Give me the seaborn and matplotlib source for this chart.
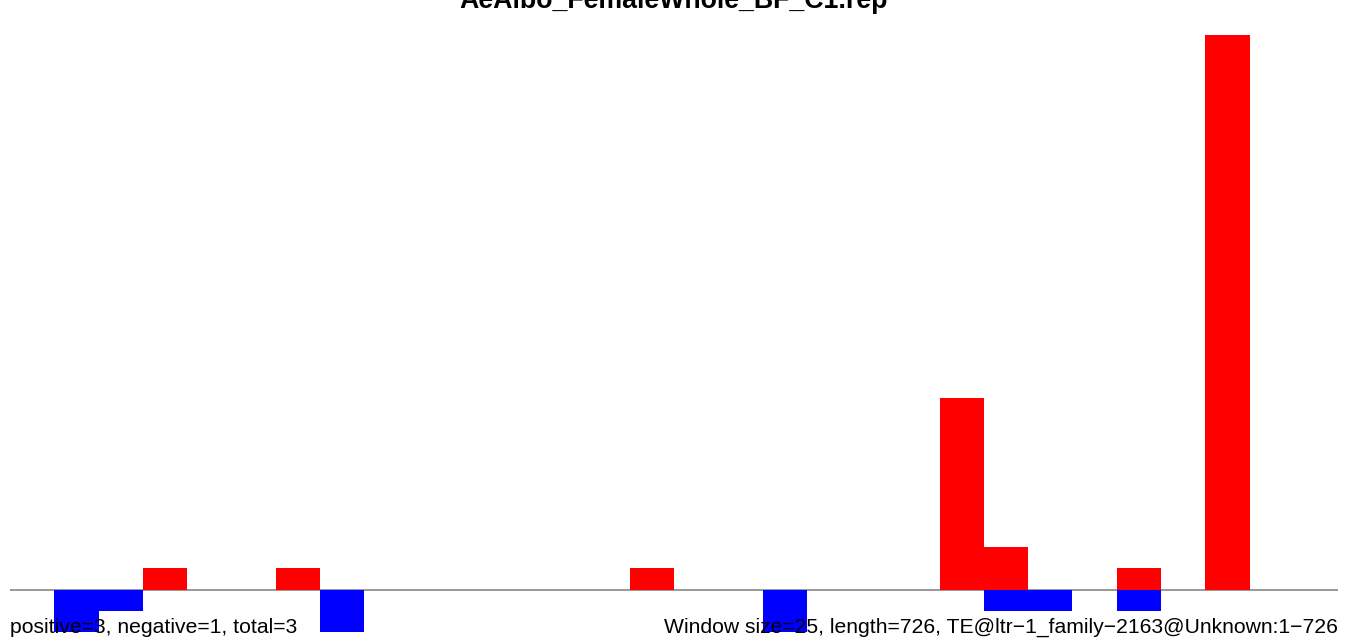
import numpy as np
import pandas as pd
import matplotlib
matplotlib.use("Agg")
import matplotlib.pyplot as plt
import seaborn as sns

# window index (25 bp windows over 726 bp)
bins = list(range(30))
pos_counts = [0, 0, 0, 1, 0, 0, 1, 0, 0, 0, 0, 0, 0, 0, 1, 0, 0, 0, 0, 0,
              0, 9, 2, 0, 0, 1, 0, 26, 0, 0]
neg_counts = [0, 2, 1, 0, 0, 0, 0, 2, 0, 0, 0, 0, 0, 0, 0, 0, 0, 2, 0, 0,
              0, 0, 1, 1, 0, 1, 0, 0, 0, 0]

title = "AeAlbo_FemaleWhole_BF_C1.rep"
left_note = "positive=3, negative=1, total=3"
right_note = "Window size=25, length=726, TE@ltr\u22121_family\u22122163@Unknown:1\u2212726"

df = pd.DataFrame({"bin": bins, "pos": pos_counts,
                   "neg": [-v for v in neg_counts]})

sns.set_style("white")
plt.rcParams["font.family"] = ["Liberation Sans", "DejaVu Sans"]

fig = plt.figure(figsize=(13.5, 6.44), dpi=100)
ax = fig.add_axes([0, 0, 1, 1])

sns.barplot(data=df, x="bin", y="pos", color="red", saturation=1,
            width=1, linewidth=0, ax=ax)
sns.barplot(data=df, x="bin", y="neg", color="blue", saturation=1,
            width=1, linewidth=0, ax=ax)

ax.hlines(0, -0.5, len(bins) - 0.5, color="#888888", lw=1.2, zorder=0.5)

unit = 21.33
ax.set_ylim(-54.3 / unit, 589.7 / unit)
ax.set_xlim(-0.5 - 10 / 44.27, -0.5 + 1340 / 44.27)
ax.set_axis_off()

fig.text(674 / 1350, 1 - 7.5 / 644, title, ha="center", va="baseline",
         fontsize=19.3, fontweight="bold", color="black", zorder=5)
fig.text(10 / 1350, 1 - 633 / 644, left_note, ha="left", va="baseline",
         fontsize=15.2, color="black", zorder=5)
fig.text(1338 / 1350, 1 - 633 / 644, right_note, ha="right", va="baseline",
         fontsize=15.2, color="black", zorder=5)

fig.savefig("out.png", dpi=100)
